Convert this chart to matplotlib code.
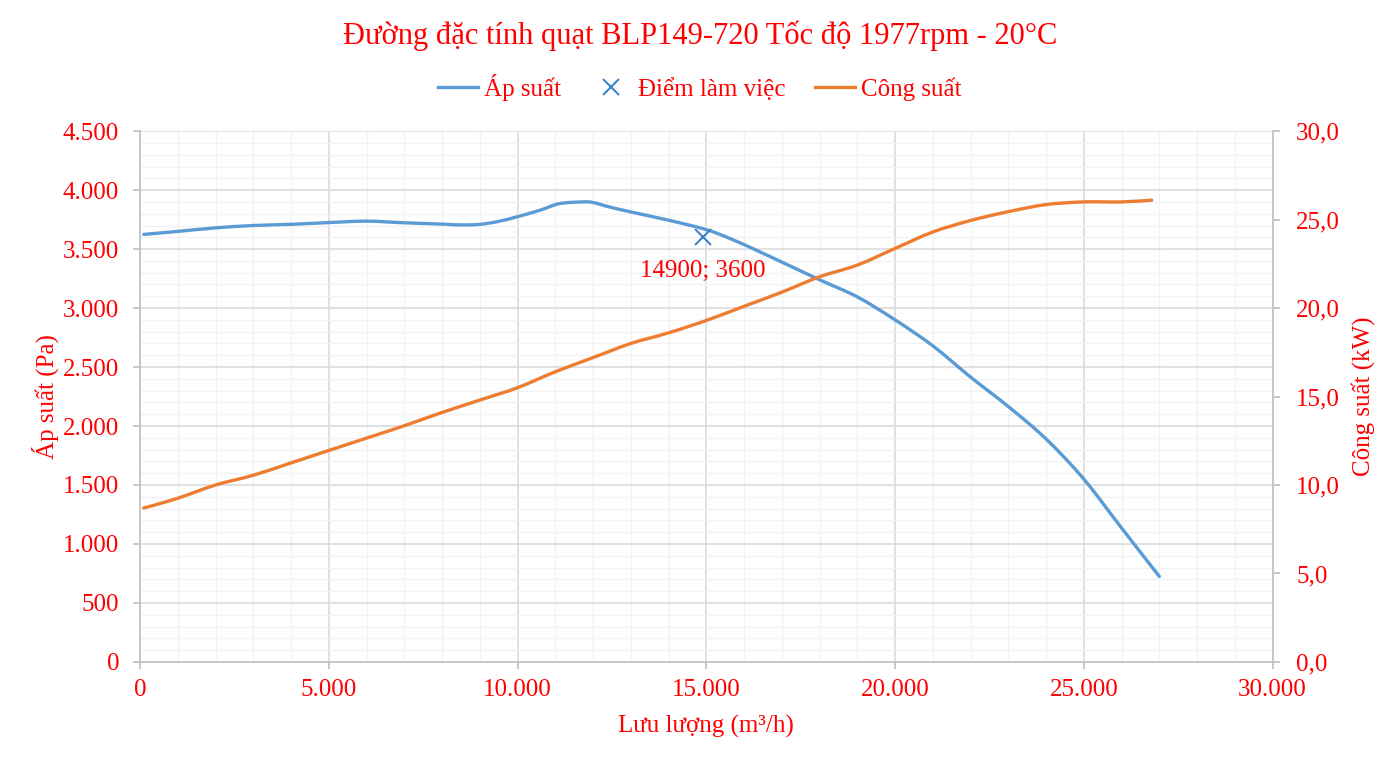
import matplotlib
matplotlib.use("Agg")
import numpy as np
import matplotlib.pyplot as plt
from matplotlib.ticker import MultipleLocator, FuncFormatter
from matplotlib.lines import Line2D
from matplotlib.path import Path
from matplotlib.patches import PathPatch

plt.rcParams['font.family'] = ['Liberation Serif', 'DejaVu Serif']

# pressure curve (Pa) vs flow (m3/h)
flow_p = [100, 1000, 2000, 3000, 4000, 5000, 6000, 7000, 8000, 8500, 9000, 9500,
          10000, 10600, 11100, 11700, 12000, 12400, 13000, 14000, 15000, 15700,
          16600, 18000, 19000, 20000, 21000, 22000, 23000, 24000, 25000, 26000, 27000]
pressure = [3625, 3650, 3680, 3700, 3710, 3725, 3737, 3723, 3712, 3705, 3710, 3735,
            3775, 3830, 3885, 3900, 3895, 3860, 3815, 3745, 3665, 3580,
            3450, 3240, 3095, 2900, 2680, 2415, 2165, 1890, 1550, 1135, 725]

# power curve (kW) vs flow
flow_w = [100, 1000, 2000, 3000, 4000, 5000, 6000, 7000, 8000, 9000, 10000,
          11000, 12000, 13000, 14000, 15000, 16000, 17000, 18000, 19000, 20000,
          21000, 22000, 23000, 24000, 25000, 26000, 26800]
power = [8.7, 9.25, 10.0, 10.55, 11.25, 11.95, 12.65, 13.35, 14.1, 14.8, 15.5,
         16.4, 17.2, 18.0, 18.6, 19.3, 20.1, 20.9, 21.77, 22.43, 23.37,
         24.3, 24.95, 25.45, 25.85, 26.0, 26.0, 26.1]

work_x = [14900]
work_y = [3600]

red = '#FF0000'
blue = '#5B9BD5'
orange = '#ED7D31'
mark = '#2F80C8'


def smooth_line(a, x, y, color):
    # Excel-style smoothed line: Catmull-Rom segments as cubic Beziers
    x = np.asarray(x, float)
    y = np.asarray(y, float)
    verts = [(x[0], y[0])]
    codes = [Path.MOVETO]
    n = len(x)
    for i in range(n - 1):
        p0 = (x[max(i - 1, 0)], y[max(i - 1, 0)])
        p1 = (x[i], y[i])
        p2 = (x[i + 1], y[i + 1])
        p3 = (x[min(i + 2, n - 1)], y[min(i + 2, n - 1)])
        c1 = (p1[0] + (p2[0] - p0[0]) / 6, p1[1] + (p2[1] - p0[1]) / 6)
        c2 = (p2[0] - (p3[0] - p1[0]) / 6, p2[1] - (p3[1] - p1[1]) / 6)
        verts += [c1, c2, p2]
        codes += [Path.CURVE4] * 3
    a.add_patch(PathPatch(Path(verts, codes), fill=False, edgecolor=color,
                          lw=2.4, capstyle='round', joinstyle='round', zorder=3))


fig = plt.figure(figsize=(14, 7.67), dpi=100)
ax = fig.add_axes([0.1, 0.137, 0.809, 0.692])
ax2 = ax.twinx()

smooth_line(ax, flow_p, pressure, blue)
ax.plot(work_x, work_y, ls='none', marker='x', ms=12, mew=1.4, color=mark, zorder=4)
ax.annotate('14900; 3600', (work_x[0], work_y[0]), xytext=(0, -24),
            textcoords='offset points', ha='center', va='center', color=red, fontsize=18)
smooth_line(ax2, flow_w, power, orange)

ax.set_xlim(0, 30000)
ax.set_ylim(0, 4500)
ax2.set_ylim(0, 30)

ax.xaxis.set_major_locator(MultipleLocator(5000))
ax.xaxis.set_minor_locator(MultipleLocator(1000))
ax.yaxis.set_major_locator(MultipleLocator(500))
ax.yaxis.set_minor_locator(MultipleLocator(100))
ax2.yaxis.set_major_locator(MultipleLocator(5))

thou = FuncFormatter(lambda v, p: f'{int(v):,}'.replace(',', '.'))
ax.xaxis.set_major_formatter(thou)
ax.yaxis.set_major_formatter(thou)
ax2.yaxis.set_major_formatter(FuncFormatter(lambda v, p: f'{v:.1f}'.replace('.', ',')))

ax.grid(which='major', color='#D9D9D9', lw=1.1)
ax.grid(which='minor', color='#F2F2F2', lw=1.0)
ax.set_axisbelow(True)

for a in (ax, ax2):
    for s in a.spines.values():
        s.set_visible(False)
ax.spines['left'].set_visible(True)
ax.spines['bottom'].set_visible(True)
ax2.spines['right'].set_visible(True)
for s in (ax.spines['left'], ax.spines['bottom'], ax2.spines['right']):
    s.set_color('#BFBFBF')
    s.set_linewidth(1.2)

ax.tick_params(which='major', axis='y', colors='#BFBFBF', labelcolor=red,
               labelsize=18, length=5, width=1.2, direction='out', pad=10)
ax.tick_params(which='major', axis='x', colors='#BFBFBF', labelcolor=red,
               labelsize=18, length=5, width=1.2, direction='out', pad=7)
ax.tick_params(which='minor', length=0)
ax2.tick_params(axis='y', colors='#BFBFBF', labelcolor=red, labelsize=18,
                length=5, width=1.2, direction='out', pad=12)
ax2.tick_params(which='minor', length=0)

ax.set_xlabel('Lưu lượng (m³/h)', color=red, fontsize=18, labelpad=10)
ax.set_ylabel('Áp suất (Pa)', color=red, fontsize=18, labelpad=3)
ax2.set_ylabel('Công suất (kW)', color=red, fontsize=18, labelpad=8)

fig.text(0.5, 0.953, 'Đường đặc tính quạt BLP149-720 Tốc độ 1977rpm - 20°C',
         ha='center', va='center', color=red, fontsize=22)

handles = [Line2D([], [], color=blue, lw=2.4),
           Line2D([], [], ls='none', marker='x', ms=12, mew=1.4, color=mark),
           Line2D([], [], color=orange, lw=2.4)]
labels = ['Áp suất', 'Điểm làm việc', 'Công suất']
leg = fig.legend(handles, labels, loc='center', bbox_to_anchor=(0.5, 0.886), ncol=3,
                 frameon=False, fontsize=18, handlelength=1.6, handletextpad=0.25,
                 columnspacing=1.2)
for t in leg.get_texts():
    t.set_color(red)

fig.savefig('out.png', dpi=100)
